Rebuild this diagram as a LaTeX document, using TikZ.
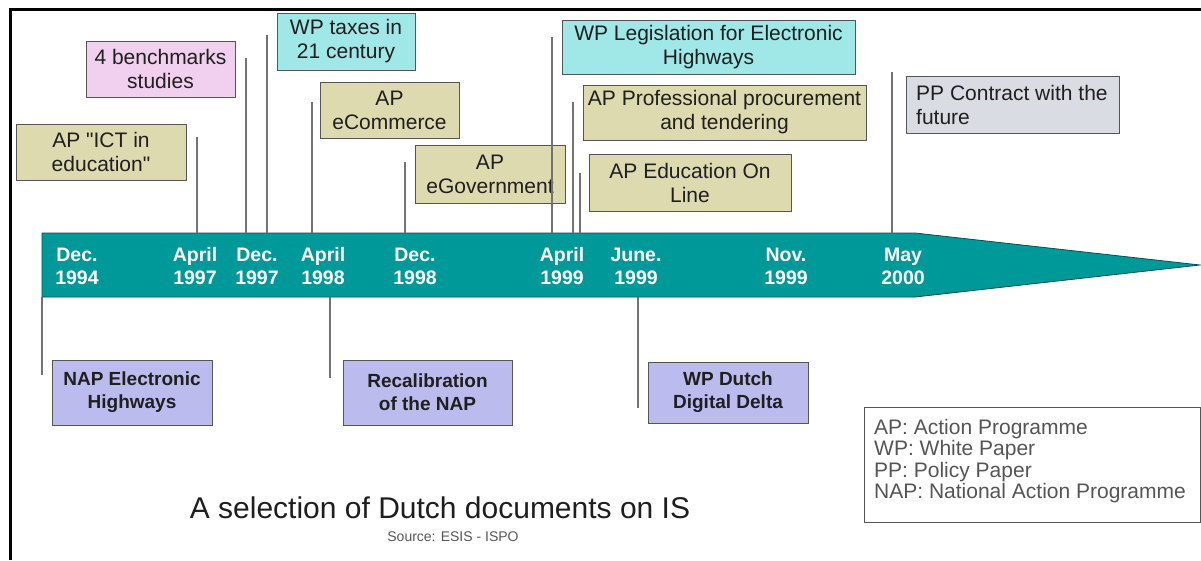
\documentclass[tikz,border=0pt]{standalone}
\usepackage{fontspec}
\setmainfont{Liberation Sans}
\definecolor{bandteal}{RGB}{0,153,153}
\definecolor{bandedge}{RGB}{0,80,80}
\definecolor{khaki}{RGB}{221,218,176}
\definecolor{pinkbox}{RGB}{240,208,238}
\definecolor{cyanbox}{RGB}{160,232,232}
\definecolor{lavbox}{RGB}{187,187,238}
\definecolor{ppgray}{RGB}{218,220,228}
\definecolor{boxline}{RGB}{85,85,85}
\definecolor{tickgray}{RGB}{115,115,115}
\definecolor{legtext}{RGB}{85,85,85}
\definecolor{titletext}{RGB}{30,30,30}
\newcommand{\straightquote}{{\addfontfeatures{Ligatures=TeXOff}"}}
\begin{document}
\begin{tikzpicture}[x=1pt,y=1pt,
  docbox/.style={draw=boxline, line width=1pt, inner sep=0pt, align=center,
    text=black!88, font=\fontsize{21}{24}\selectfont},
  apbox/.style={docbox, fill=khaki},
  wpbox/.style={docbox, fill=cyanbox},
  napbox/.style={docbox, fill=lavbox, font=\bfseries\fontsize{19}{23}\selectfont},
  datelbl/.style={text=white, font=\bfseries\fontsize{19.5}{23}\selectfont, align=center, inner sep=0pt},
  tick/.style={draw=tickgray, line width=1.2pt},
  frameline/.style={line width=3pt, black}]
\useasboundingbox (0,0) rectangle (1201,-560);
% frame
\draw[frameline] (10,-560) -- (10,-9) -- (1201,-9);
% timeline band
\coordinate (bandtop) at (0,-233);
\coordinate (bandbot) at (0,-297);
\filldraw[fill=bandteal, draw=bandedge, line width=0.8pt]
  (42,-233) -- (915,-233) -- (1200,-265) -- (915,-297) -- (42,-297) -- cycle;
% date labels
\node[datelbl] (d1) at (77,-266) {Dec.\\1994};
\node[datelbl] (d2) at (195,-266) {April\\1997};
\node[datelbl] (d3) at (257,-266) {Dec.\\1997};
\node[datelbl] (d4) at (323,-266) {April\\1998};
\node[datelbl] (d5) at (415,-266) {Dec.\\1998};
\node[datelbl] (d6) at (562,-266) {April\\1999};
\node[datelbl] (d7) at (636,-266) {June.\\1999};
\node[datelbl] (d8) at (786,-266) {Nov.\\1999};
\node[datelbl] (d9) at (903,-266) {May\\2000};
% upper documents
\node[apbox, minimum width=170, minimum height=56] (ict) at (101,-152) {AP \straightquote ICT in\\education\straightquote};
\node[docbox, fill=pinkbox, minimum width=149, minimum height=56] (bench) at (160.5,-69) {4 benchmarks\\studies};
\node[wpbox, minimum width=138, minimum height=57] (taxes) at (346,-41.5) {WP taxes in\\21 century};
\node[apbox, minimum width=139, minimum height=56] (ecom) at (389.5,-110) {AP\\eCommerce};
\node[apbox, minimum width=150, minimum height=58] (egov) at (490,-174) {AP\\eGovernment};
\node[wpbox, minimum width=293, minimum height=54] (legis) at (708.5,-47) {WP Legislation for Electronic\\Highways};
\node[apbox, minimum width=283, minimum height=55] (proc) at (724.5,-112.5) {AP Professional procurement\\and tendering};
\node[apbox, minimum width=202, minimum height=57] (edu) at (690,-182.5) {AP Education On\\Line};
\node[docbox, fill=ppgray, minimum width=213, minimum height=57] (pp) at (1012.5,-104.5) {};
\node[anchor=north west, align=left, inner sep=0pt, text=black!88,
  font=\fontsize{21}{24.5}\selectfont] (pptext) at (916,-84.8) {PP Contract with the\\future};
% ticks above the band
\coordinate (u1) at (197,-137);
\coordinate (u2) at (246,-58);
\coordinate (u3) at (267,-35);
\coordinate (u4) at (312,-102);
\coordinate (u5) at (405,-162);
\coordinate (u6) at (552,-37);
\coordinate (u7) at (573,-102);
\coordinate (u8) at (580,-173);
\coordinate (u9) at (892,-72);
\foreach \c in {u1,u2,u3,u4,u5,u6,u7,u8,u9}
  \draw[tick] (\c) -- (\c |- bandtop);
% lower documents
\node[napbox, minimum width=160, minimum height=65] (nap) at (132,-392.5) {NAP Electronic\\Highways};
\node[napbox, minimum width=169, minimum height=65] (recal) at (427.5,-392.5) {Recalibration\\of the NAP};
\node[napbox, minimum width=160, minimum height=61] (dutch) at (728,-392.5) {WP Dutch\\Digital Delta};
\coordinate (l1) at (42,-375);
\coordinate (l2) at (330,-378);
\coordinate (l3) at (638,-408);
\foreach \c in {l1,l2,l3}
  \draw[tick] (\c |- bandbot) -- (\c);
% legend
\node[draw=boxline, line width=1pt, fill=white, minimum width=336, minimum height=115, inner sep=0pt] (legend) at (1032,-464.5) {};
\node[anchor=north west, align=left, inner sep=0pt, text=legtext,
  font=\fontsize{21}{21.5}\selectfont] (legtxt) at (874,-419)
  {AP: Action Programme\\WP: White Paper\\PP: Policy Paper\\NAP: National Action Programme};
% title
\node[text=titletext, font=\fontsize{30}{33}\selectfont, inner sep=0pt] (title) at (440,-508) {A selection of Dutch documents on IS};
\node[text=legtext, font=\fontsize{14}{16}\selectfont, inner sep=0pt] (source) at (453,-537) {Source: ESIS - ISPO};
\end{tikzpicture}
\end{document}
